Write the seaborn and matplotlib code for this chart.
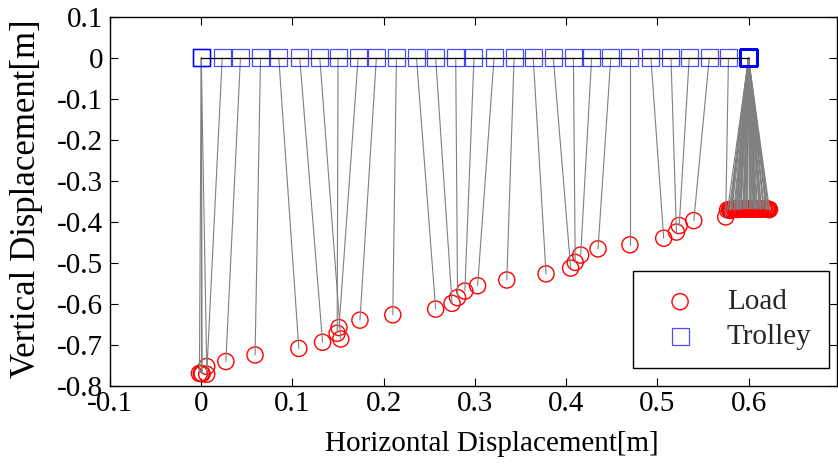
import matplotlib
matplotlib.use("Agg")
import matplotlib.pyplot as plt
import numpy as np
import pandas as pd
import seaborn as sns

# trolley standing at the start, load still swinging a little
start_load_x = [-0.002, 0.000, 0.001, 0.006]
start_load_y = [-0.770, -0.770, -0.771, -0.753]

# trolley travelling from 0 to 0.6 m
move_trolley_x = [0.023, 0.043, 0.065, 0.085, 0.108, 0.130, 0.150, 0.172, 0.192,
                  0.214, 0.236, 0.257, 0.279, 0.299, 0.321, 0.343, 0.364, 0.386,
                  0.408, 0.428, 0.449, 0.470, 0.493, 0.515, 0.535, 0.557, 0.578]
move_load_x = [0.006, 0.027, 0.059, 0.107, 0.133, 0.153, 0.149, 0.151, 0.174,
               0.210, 0.257, 0.275, 0.281, 0.289, 0.303, 0.335, 0.378, 0.405,
               0.410, 0.416, 0.435, 0.470, 0.507, 0.521, 0.524, 0.540, 0.575]
move_load_y = [-0.772, -0.741, -0.725, -0.709, -0.694, -0.686, -0.672, -0.658, -0.640,
               -0.627, -0.613, -0.599, -0.585, -0.569, -0.556, -0.542, -0.527, -0.513,
               -0.499, -0.481, -0.466, -0.456, -0.440, -0.425, -0.409, -0.397, -0.388]

# trolley stopped at 0.6 m, load swinging
end_load_x = [0.580, 0.588, 0.598, 0.608, 0.616, 0.621, 0.623, 0.620, 0.613, 0.604,
              0.594, 0.585, 0.579, 0.577, 0.580, 0.587, 0.596, 0.606, 0.614, 0.620,
              0.622, 0.619, 0.612, 0.603, 0.594, 0.587, 0.582, 0.581, 0.584, 0.591,
              0.599, 0.607, 0.613, 0.617, 0.617, 0.613, 0.606, 0.598, 0.591, 0.587,
              0.586, 0.589, 0.595, 0.602, 0.608, 0.612, 0.614, 0.612, 0.607, 0.601,
              0.595, 0.591, 0.590, 0.592, 0.597, 0.602, 0.607, 0.610, 0.609, 0.605]
end_load_y = [-0.372, -0.370, -0.369, -0.368, -0.368, -0.369, -0.370, -0.369, -0.368, -0.368,
              -0.368, -0.369, -0.370, -0.371, -0.370, -0.369, -0.368, -0.368, -0.368, -0.369,
              -0.370, -0.369, -0.368, -0.368, -0.368, -0.369, -0.370, -0.370, -0.369, -0.368,
              -0.368, -0.368, -0.369, -0.369, -0.369, -0.369, -0.368, -0.368, -0.368, -0.369,
              -0.369, -0.369, -0.368, -0.368, -0.368, -0.369, -0.369, -0.369, -0.368, -0.368,
              -0.368, -0.369, -0.369, -0.369, -0.368, -0.368, -0.368, -0.369, -0.369, -0.368]

xticks = [-0.1, 0.0, 0.1, 0.2, 0.3, 0.4, 0.5, 0.6]
xtick_labels = ["-0.1", "0", "0.1", "0.2", "0.3", "0.4", "0.5", "0.6"]
yticks = [-0.8, -0.7, -0.6, -0.5, -0.4, -0.3, -0.2, -0.1, 0.0, 0.1]
ytick_labels = ["-0.8", "-0.7", "-0.6", "-0.5", "-0.4", "-0.3", "-0.2", "-0.1", "0", "0.1"]

trolley_x = [0.0] * len(start_load_x) + move_trolley_x + [0.6] * len(end_load_x)
df = pd.DataFrame({
    "trolley_x": trolley_x,
    "trolley_y": [0.0] * len(trolley_x),
    "load_x": start_load_x + move_load_x + end_load_x,
    "load_y": start_load_y + move_load_y + end_load_y,
})

sns.set_theme(style="ticks")
plt.rcParams["font.family"] = ["Liberation Serif", "DejaVu Serif"]

fig = plt.figure(figsize=(8.38, 4.67), dpi=100)
ax = fig.add_axes([0.1313, 0.1741, 0.8675, 0.7895])

sns.scatterplot(data=df, x="load_x", y="load_y", marker="o", s=135,
                facecolors="none", edgecolor="red", linewidth=1.0,
                label="Load", ax=ax, zorder=2)
for r in df.itertuples():
    ax.plot([r.trolley_x, r.load_x], [r.trolley_y, r.load_y],
            color="0.5", lw=0.8, zorder=3)
sns.scatterplot(data=df, x="trolley_x", y="trolley_y", marker="s", s=150,
                facecolors="none", edgecolor="blue", linewidth=0.9, alpha=0.7,
                label="Trolley", ax=ax, zorder=4)
ax.plot(df["trolley_x"], df["trolley_y"], color="black", lw=0.9, zorder=5)

ax.set_xlim(-0.1, 0.697)
ax.set_ylim(-0.8, 0.1)
ax.set_xticks(xticks)
ax.set_xticklabels(xtick_labels)
ax.set_yticks(yticks)
ax.set_yticklabels(ytick_labels)
ax.tick_params(direction="in", top=True, right=True, length=5.5, width=0.8,
               labelsize=21, colors="black")
ax.tick_params(axis="x", pad=4)
ax.tick_params(axis="y", pad=5)
for sp in ax.spines.values():
    sp.set_visible(True)
    sp.set_color("black")
    sp.set_linewidth(1.0)

ax.set_xlabel("Horizontal Displacement[m]", fontsize=21, color="black")
ax.set_ylabel("Vertical Displacement[m]", fontsize=25, color="black")
ax.xaxis.set_label_coords(0.525, -0.122)
ax.yaxis.set_label_coords(-0.092, 0.508)

leg = ax.legend(loc="lower right", bbox_to_anchor=(0.989, 0.048), borderaxespad=0,
                fontsize=21, fancybox=False, framealpha=1, edgecolor="black",
                handlelength=2.0, handletextpad=0.6, borderpad=0.6, labelspacing=0.3)
leg.get_frame().set_linewidth(1.0)

fig.savefig("out.png", dpi=100)
